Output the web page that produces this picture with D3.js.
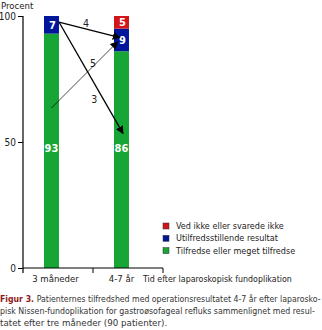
<!DOCTYPE html>
<html>
<head>
<meta charset="utf-8">
<script src="https://cdn.jsdelivr.net/npm/d3@7"></script>
<style>
  html, body { margin: 0; padding: 0; background: #fff; }
  svg { display: block; font-family: "DejaVu Sans Condensed", "DejaVu Sans", sans-serif; }
</style>
</head>
<body>
<svg id="chart" width="322" height="330"></svg>
<script>
// Satisfaction with surgery result, 3 months vs 4-7 years after
const categories = ["3 måneder", "4-7 år"];
const satisfied = [93, 86];
const unsatisfied = [7, 9];
const unknown = [0, 5];
const seriesNames = ["Ved ikke eller svarede ikke", "Utilfredsstillende resultat", "Tilfredse eller meget tilfredse"];
const seriesColors = ["#d3141b", "#00169a", "#17a535"];
const yTicks = [0, 50, 100];

// Patient movements between groups (counts), endpoints in percent units
const flowCounts = ["4", "5", "3"];
const flowFromY = [97.6, 63.5, 97.6];
const flowToY = [91.4, 89.8, 53.4];
const flowFromX = [1, 0.5, 1];      // fraction across first bar
const flowToX = [0.4, 0.25, 0.6];   // fraction across second bar
const flowLabelY = [97.2, 81.5, 67];
const flowLabelX = [0.49, 0.62, 0.64]; // fraction of gap between bars
const flowWidth = [1.3, 0.7, 1.3];

const captionLines = [
  "Patienternes tilfredshed med operationsresultatet 4-7 år efter laparosko-",
  "pisk Nissen-fundoplikation for gastroøsofageal refluks sammenlignet med resul-",
  "tatet efter tre måneder (90 patienter)."
];

const svg = d3.select("#chart");

const x = d3.scaleBand().domain(categories).range([23, 163]).paddingInner(0).paddingOuter(0);
const y = d3.scaleLinear().domain([0, 100]).range([268, 16]);
const barOffset = x.step() * 0.3;
const barW = x.step() * 0.214;
const barX = c => x(c) + barOffset;

// stacked segments
const stacks = categories.map((c, i) => [
  { key: 2, c, y0: 0, y1: satisfied[i] },
  { key: 1, c, y0: satisfied[i], y1: satisfied[i] + unsatisfied[i] },
  { key: 0, c, y0: satisfied[i] + unsatisfied[i], y1: satisfied[i] + unsatisfied[i] + unknown[i] }
]).flat().filter(d => d.y1 > d.y0);

svg.append("g").selectAll("rect").data(stacks).join("rect")
  .attr("x", d => barX(d.c))
  .attr("width", barW)
  .attr("y", d => y(d.y1))
  .attr("height", d => y(d.y0) - y(d.y1))
  .attr("fill", d => seriesColors[d.key]);

// value labels inside the bars
const labelG = svg.append("g")
  .attr("fill", "#fff")
  .attr("font-size", 11)
  .attr("font-weight", "bold")
  .attr("text-anchor", "middle");
stacks.forEach(d => {
  const isGreen = d.key === 2;
  const v = d.y1 - d.y0;
  const cy = isGreen ? y(47.5) : y((d.y0 + d.y1) / 2);
  labelG.append("text")
    .attr("x", barX(d.c) + barW / 2 + (isGreen ? 0 : 1))
    .attr("y", cy + 4)
    .text(v);
});

// y axis
const yAxis = d3.axisLeft(y).tickValues(yTicks).tickSize(5).tickPadding(2);
const yg = svg.append("g").attr("transform", "translate(23,0)").call(yAxis);
yg.select(".domain").attr("d", `M0,${y(100)}V${y(0) + 5}`).attr("stroke", "#000").attr("stroke-width", 1.2);
yg.selectAll(".tick line").attr("stroke", "#000");
yg.selectAll(".tick text").attr("font-size", 10).attr("fill", "#222").attr("font-family", "DejaVu Sans Condensed, DejaVu Sans, sans-serif");

svg.append("text").attr("x", 1).attr("y", 9).attr("font-size", 9.5).attr("fill", "#222").text("Procent");

// fit a text element horizontally into a given width by scaling it
function fitWidth(sel, x0, width) {
  const w = sel.node().getComputedTextLength();
  sel.attr("x", 0).attr("transform", `translate(${x0},0) scale(${width / w},1)`);
}

// x axis baseline with boundary ticks
const xg = svg.append("g");
xg.append("line").attr("x1", 23).attr("x2", 163).attr("y1", y(0)).attr("y2", y(0)).attr("stroke", "#000").attr("stroke-width", 1.2);
const bounds = [x.range()[0], x(categories[1]), x.range()[1]];
xg.selectAll("line.tk").data(bounds.slice(1)).join("line")
  .attr("class", "tk")
  .attr("x1", d => d).attr("x2", d => d)
  .attr("y1", y(0)).attr("y2", y(0) + 5)
  .attr("stroke", "#000");
xg.selectAll("text").data(categories).join("text")
  .attr("x", (c, i) => barX(c) + barW / 2 + (i === 0 ? 4 : 0))
  .attr("y", 282)
  .attr("text-anchor", "middle")
  .attr("font-size", 9.5)
  .attr("fill", "#222")
  .text(c => c);
const timeTitle = svg.append("text").attr("y", 282).attr("font-size", 9.5).attr("fill", "#222")
  .text("Tid efter laparoskopisk fundoplikation");
fitWidth(timeTitle, 143, 149);

// flow arrows
const defs = svg.append("defs");
defs.append("marker").attr("id", "head").attr("viewBox", "0 0 10 10")
  .attr("refX", 9).attr("refY", 5).attr("markerWidth", 8).attr("markerHeight", 8)
  .attr("markerUnits", "userSpaceOnUse").attr("orient", "auto")
  .append("path").attr("d", "M0,0L10,5L0,10Z").attr("fill", "#000");

const gapStart = barX(categories[0]) + barW;
const gapEnd = barX(categories[1]);
flowCounts.forEach((lab, i) => {
  svg.append("line")
    .attr("x1", barX(categories[0]) + barW * flowFromX[i])
    .attr("y1", y(flowFromY[i]))
    .attr("x2", barX(categories[1]) + barW * flowToX[i])
    .attr("y2", y(flowToY[i]))
    .attr("stroke", "#000")
    .attr("stroke-width", flowWidth[i])
    .attr("marker-end", "url(#head)");
  svg.append("text")
    .attr("x", gapStart + (gapEnd - gapStart) * flowLabelX[i])
    .attr("y", y(flowLabelY[i]) + 4)
    .attr("text-anchor", "middle")
    .attr("font-size", 10.5)
    .attr("fill", "#222")
    .text(lab);
});

// legend
const lg = svg.append("g");
seriesNames.forEach((n, i) => {
  lg.append("rect").attr("x", 163).attr("y", 223 + i * 12.3).attr("width", 6).attr("height", 6)
    .attr("fill", seriesColors[i]).attr("stroke", "#333").attr("stroke-width", 0.5);
  lg.append("text").attr("x", 176).attr("y", 229 + i * 12.3).attr("font-size", 9).attr("fill", "#222").text(n);
});

// caption
const cap = svg.append("g").attr("font-size", 9.4).attr("fill", "#333");
const first = cap.append("text").attr("y", 302);
first.append("tspan").attr("font-weight", "bold").attr("fill", "#8e1b1b").text("Figur 3.  ");
first.append("tspan").text(captionLines[0]);
fitWidth(first, 0, 320);
const second = cap.append("text").attr("y", 314).text(captionLines[1]);
fitWidth(second, 0, 314);
const third = cap.append("text").attr("y", 326).text(captionLines[2]);
fitWidth(third, 0, 167);
</script>
</body>
</html>
